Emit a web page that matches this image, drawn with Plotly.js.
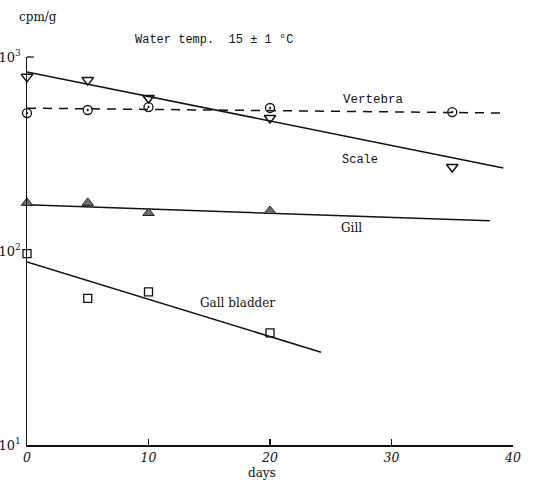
<!DOCTYPE html>
<html>
<head>
<meta charset="utf-8">
<script src="https://cdn.plot.ly/plotly-3.0.1.min.js"></script>
<style>html,body{margin:0;padding:0;background:#fff;}#chart{width:537px;height:480px;}</style>
</head>
<body>
<div id="chart"></div>
<script>
// ---- data ----
const daysFull = [0, 5, 10, 20, 35];
const daysShort = [0, 5, 10, 20];
const scaleVals = [790, 760, 615, 485, 271];
const vertebraVals = [514, 533, 552, 546, 520];
const gillVals = [177, 177, 157, 161];
const gallVals = [97, 57, 61.5, 37.8];

const scaleFitX = [0, 39.2];
const scaleFitY = [837, 268];
const vertebraFitX = [0, 39.5];
const vertebraFitY = [545, 514];
const gillFitX = [0, 38.1];
const gillFitY = [173, 143];
const gallFitX = [0, 24.2];
const gallFitY = [87.7, 30.1];

const xTickVals = [0, 10, 20, 30, 40];
const xTickText = ['0', '10', '20', '30', '40'];
const yTickVals = [10, 100, 1000];
const yTickText = ['10<sup>1</sup>', '10<sup>2</sup>', '10<sup>3</sup>'];

const fitLine = (x, y, dash) => ({
  x: x, y: y, mode: 'lines', type: 'scatter', showlegend: false, hoverinfo: 'skip',
  line: {color: '#111', width: 1.5, dash: dash || 'solid'}, cliponaxis: false
});

const traces = [
  fitLine(scaleFitX, scaleFitY),
  fitLine(vertebraFitX, vertebraFitY, '9px,7px'),
  fitLine(gillFitX, gillFitY),
  fitLine(gallFitX, gallFitY),
  {x: daysFull, y: scaleVals, mode: 'markers', type: 'scatter', name: 'Scale', cliponaxis: false,
   marker: {symbol: 'triangle-down-open', size: 10, color: '#111', line: {width: 1.5, color: '#111'}}},
  {x: daysFull, y: vertebraVals, mode: 'markers', type: 'scatter', name: 'Vertebra', cliponaxis: false,
   marker: {symbol: 'circle-open-dot', size: 9, color: '#111', line: {width: 1.3, color: '#111'}}},
  {x: daysShort, y: gillVals, mode: 'markers', type: 'scatter', name: 'Gill', cliponaxis: false,
   marker: {symbol: 'triangle-up', size: 10, color: '#6e6e6e', line: {width: 1, color: '#222'}}},
  {x: daysShort, y: gallVals, mode: 'markers', type: 'scatter', name: 'Gall bladder', cliponaxis: false,
   marker: {symbol: 'square-open', size: 8, color: '#111', line: {width: 1.3, color: '#111'}}}
];

const serif = 'DejaVu Serif, serif';
const mono = 'Liberation Mono, monospace';
const ann = (text, x, y, fam, size) => ({
  text: text, xref: 'paper', yref: 'paper', x: x, y: y, showarrow: false,
  xanchor: 'center', yanchor: 'middle', font: {family: fam, size: size, color: '#111'}
});

const layout = {
  width: 537, height: 480,
  margin: {l: 27, r: 24, t: 57, b: 35, pad: 0},
  paper_bgcolor: '#fff', plot_bgcolor: '#fff',
  showlegend: false,
  xaxis: {
    range: [0, 40], showgrid: false, zeroline: false, showline: true, linecolor: '#111', linewidth: 1.5,
    tickvals: xTickVals, ticktext: xTickText, ticks: 'inside', ticklen: 6, tickcolor: '#111', tickwidth: 1.2,
    tickfont: {family: serif, size: 12.5, color: '#111', style: 'italic'}, ticklabelstandoff: 0
  },
  yaxis: {
    type: 'log', range: [1, 3], showgrid: false, zeroline: false, showline: true, linecolor: '#111', linewidth: 1.5,
    tickvals: yTickVals, ticktext: yTickText, ticks: '',
    tickfont: {family: serif, size: 13, color: '#111'}, ticklabelstandoff: 2
  },
  shapes: [
    {type: 'line', xref: 'paper', yref: 'paper', x0: 0, x1: 0.014, y0: 1, y1: 1, line: {color: '#111', width: 1.3}}
  ],
  annotations: [
    ann('cpm/g', 0.023, 1.103, serif, 12),
    ann('Water temp.  15 ± 1 °C', 0.385, 1.044, mono, 12),
    ann('Vertebra', 0.712, 0.889, mono, 12.5),
    ann('Scale', 0.685, 0.735, mono, 12),
    ann('Gill', 0.667, 0.559, serif, 12),
    ann('Gall bladder', 0.434, 0.366, serif, 12),
    ann('days', 0.484, -0.072, serif, 12)
  ]
};

Plotly.newPlot('chart', traces, layout, {displayModeBar: false, staticPlot: true});
</script>
</body>
</html>
